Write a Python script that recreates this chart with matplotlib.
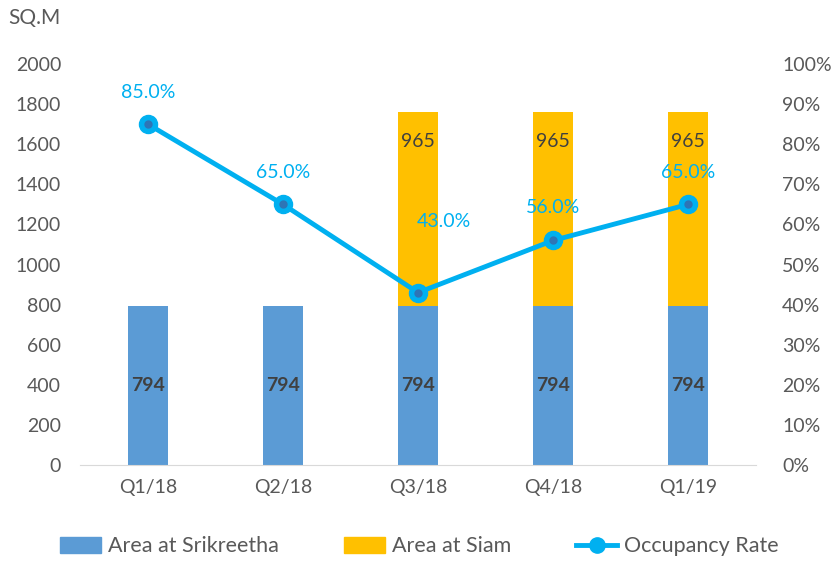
import numpy as np
from matplotlib import pyplot as plt
from matplotlib.lines import Line2D
from matplotlib.patches import Patch

plt.rcParams['font.family'] = ['Lato', 'DejaVu Sans']

quarters = ["Q1/18", "Q2/18", "Q3/18", "Q4/18", "Q1/19"]
srikreetha = [794, 794, 794, 794, 794]
siam = [0, 0, 965, 965, 965]
occupancy = [85.0, 65.0, 43.0, 56.0, 65.0]

blue = "#5B9BD5"
yellow = "#FFC000"
cyan = "#00B0F0"
grey = "#595959"

fig = plt.figure(figsize=(8.34, 5.62), dpi=100)
ax = fig.add_axes([0.0965, 0.1726, 0.8095, 0.7134])
x = np.arange(len(quarters))

ax.bar(x, srikreetha, width=0.3, color=blue, zorder=2)
ax.bar(x, siam, width=0.3, bottom=srikreetha, color=yellow, zorder=2)
ax.set_xlim(-0.5, len(quarters) - 0.5)
ax.set_ylim(0, 2000)
ax.set_yticks(np.arange(0, 2001, 200))
ax.set_xticks(x)
ax.set_xticklabels(quarters)
ax.tick_params(axis='both', length=0, labelsize=14, labelcolor=grey)
ax.tick_params(axis='x', pad=10)
ax.tick_params(axis='y', pad=14)
for s in ["top", "left", "right"]:
    ax.spines[s].set_visible(False)
ax.spines["bottom"].set_color("#D9D9D9")

for i in range(len(quarters)):
    ax.text(x[i], 397, str(srikreetha[i]), ha='center', va='center',
            fontsize=14, fontweight='bold', color="#404040", zorder=4)
    if siam[i] > 0:
        ax.text(x[i], 1615, str(siam[i]), ha='center', va='center',
                fontsize=14, color="#404040", zorder=4)

ax2 = ax.twinx()
ax2.set_ylim(0, 100)
ax2.set_yticks(np.arange(0, 101, 10))
ax2.set_yticklabels([f"{v}%" for v in range(0, 101, 10)])
ax2.tick_params(axis='y', length=0, labelsize=14, labelcolor=grey, pad=19)
for s in ["top", "left", "right", "bottom"]:
    ax2.spines[s].set_visible(False)

ax2.plot(x, occupancy, color=cyan, lw=3.5, zorder=3)
ax2.plot(x, occupancy, 'o', ms=13, mfc=cyan, mec=cyan, zorder=4)
ax2.plot(x, occupancy, 'o', ms=5, mfc="#2E75B6", mec="#2E75B6", zorder=5)

offsets = [(0, 8.0), (0, 8.0), (0.19, 17.8), (0, 8.2), (0, 8.0)]
for i, v in enumerate(occupancy):
    ax2.text(x[i] + offsets[i][0], v + offsets[i][1], f"{v:.1f}%", ha='center',
             va='center', fontsize=14, color=cyan, zorder=6)

fig.text(0.010, 0.968, "SQ.M", fontsize=15, color=grey, va='center')

handles = [Patch(color=blue), Patch(color=yellow),
           Line2D([0], [0], color=cyan, lw=3.5, marker='o', ms=11,
                  mfc=cyan, mec=cyan)]
labels = ["Area at Srikreetha", "Area at Siam", "Occupancy Rate"]
fig.legend(handles, labels, loc='center', bbox_to_anchor=(0.503, 0.028), ncol=3,
           frameon=False, fontsize=15.5, labelcolor=grey, handlelength=1.9,
           handleheight=0.75, columnspacing=3.0, handletextpad=0.35)

fig.savefig("out.png", dpi=100)
